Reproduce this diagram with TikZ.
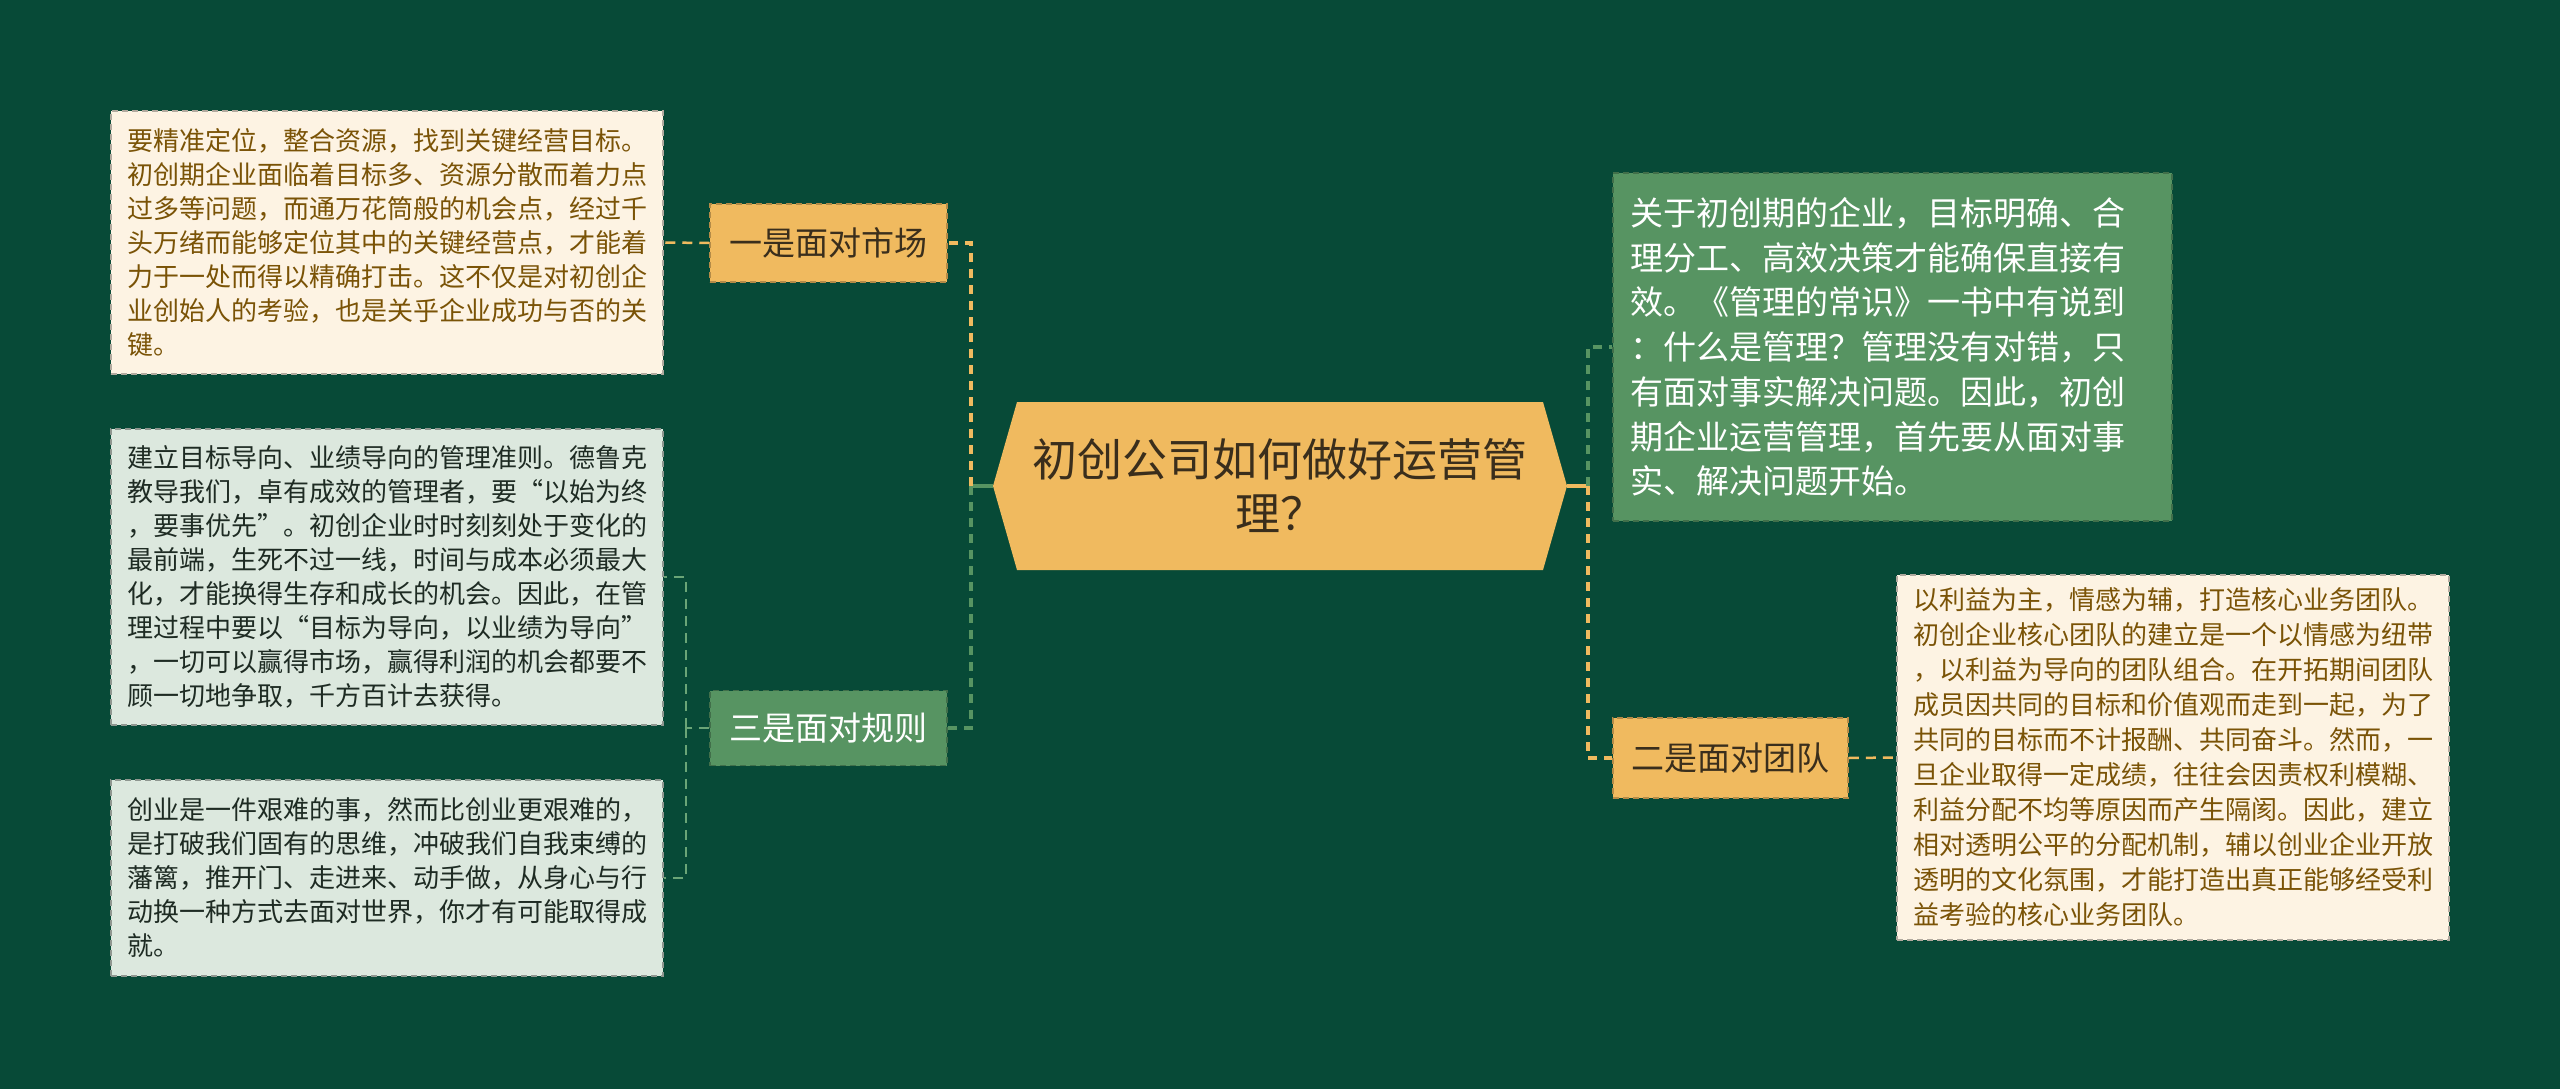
\documentclass[tikz,border=0pt]{standalone}
\usepackage{fontspec}
\newfontfamily\cjk{Noto Sans CJK SC}
\usetikzlibrary{calc}

\definecolor{bgc}{HTML}{074A37}
\definecolor{goldc}{HTML}{F0BA5F}
\definecolor{leafc}{HTML}{579462}
\definecolor{twigc}{HTML}{6AA577}
\definecolor{creamc}{HTML}{FDF3E3}
\definecolor{mintc}{HTML}{DCE8DE}
\definecolor{brownc}{HTML}{7A5306}
\definecolor{inkc}{HTML}{1E2B23}
\definecolor{darkc}{HTML}{3A2E1C}

\begin{document}
\begin{tikzpicture}[x=1pt, y=-1pt,
  note/.style={draw, line width=1.5pt, dash pattern=on 6pt off 4pt, inner xsep=16pt, inner ysep=0pt, align=left, font=\cjk\fontsize{26pt}{34pt}\selectfont},
  cream/.style={note, fill=creamc, draw=creamc!70!black, text=brownc},
  mint/.style={note, fill=mintc, draw=mintc!65!black, text=inkc},
  branch/.style={draw, line width=1.5pt, dash pattern=on 6pt off 4pt, inner sep=0pt, font=\cjk\fontsize{33pt}{40pt}\selectfont},
  goldbox/.style={branch, fill=goldc, draw=goldc!75!black, text=darkc},
  leafbox/.style={branch, fill=leafc, draw=leafc!75!black, text=white},
  link/.style={line width=3.5pt, dash pattern=on 9pt off 7pt},
  twig/.style={line width=2.5pt, dash pattern=on 10pt off 7pt},
  stem/.style={line width=4pt},
  topic/.style={minimum width=574pt, minimum height=168pt, inner sep=0pt, align=center, text=darkc,
    font=\cjk\fontsize{45pt}{54pt}\selectfont,
    path picture={\fill[goldc] (path picture bounding box.west)
      -- ([xshift=24pt]path picture bounding box.north west)
      -- ([xshift=-24pt]path picture bounding box.north east)
      -- (path picture bounding box.east)
      -- ([xshift=-24pt]path picture bounding box.south east)
      -- ([xshift=24pt]path picture bounding box.south west) -- cycle;}}
]
\fill[bgc] (0,0) rectangle (2560,1089);
\useasboundingbox (0,0) rectangle (2560,1089);

% centre
\node[topic] (root) at (1280,486) {初创公司如何做好运营管\\理？};

% left branches
\node[goldbox, minimum width=237pt, minimum height=78pt] (market) at (828.5,243) {一是面对市场};
\node[leafbox, minimum width=237pt, minimum height=75pt] (rules) at (828.5,728) {三是面对规则};

\node[cream, text width=520pt, minimum height=263pt] (marketnote) at (387,242.5) {要精准定位，整合资源，找到关键经营目标。\\初创期企业面临着目标多、资源分散而着力点\\过多等问题，而通万花筒般的机会点，经过千\\头万绪而能够定位其中的关键经营点，才能着\\力于一处而得以精确打击。这不仅是对初创企\\业创始人的考验，也是关乎企业成功与否的关\\键。};

\node[mint, text width=520pt, minimum height=296pt] (rulesnote) at (387,577) {建立目标导向、业绩导向的管理准则。德鲁克\\教导我们，卓有成效的管理者，要“以始为终\\，要事优先”。初创企业时时刻刻处于变化的\\最前端，生死不过一线，时间与成本必须最大\\化，才能换得生存和成长的机会。因此，在管\\理过程中要以“目标为导向，以业绩为导向”\\，一切可以赢得市场，赢得利润的机会都要不\\顾一切地争取，千方百计去获得。};

\node[mint, text width=520pt, minimum height=196pt] (mindnote) at (387,878) {创业是一件艰难的事，然而比创业更艰难的，\\是打破我们固有的思维，冲破我们自我束缚的\\藩篱，推开门、走进来、动手做，从身心与行\\动换一种方式去面对世界，你才有可能取得成\\就。};

% right branches
\node[note, fill=leafc, draw=leafc!75!black, text=white, inner xsep=17pt, text width=525pt, minimum height=348pt,
  font=\cjk\fontsize{33pt}{44.7pt}\selectfont] (factnote) at (1892.5,347) {关于初创期的企业，目标明确、合\\理分工、高效决策才能确保直接有\\效。《管理的常识》一书中有说到\\：什么是管理？管理没有对错，只\\有面对事实解决问题。因此，初创\\期企业运营管理，首先要从面对事\\实、解决问题开始。};

\node[goldbox, minimum width=235pt, minimum height=80pt] (team) at (1730.5,758) {二是面对团队};

\node[cream, text width=520pt, minimum height=365pt, font=\cjk\fontsize{26pt}{35pt}\selectfont] (teamnote) at (2173,757.5) {以利益为主，情感为辅，打造核心业务团队。\\初创企业核心团队的建立是一个以情感为纽带\\，以利益为导向的团队组合。在开拓期间团队\\成员因共同的目标和价值观而走到一起，为了\\共同的目标而不计报酬、共同奋斗。然而，一\\旦企业取得一定成绩，往往会因责权利模糊、\\利益分配不均等原因而产生隔阂。因此，建立\\相对透明公平的分配机制，辅以创业企业开放\\透明的文化氛围，才能打造出真正能够经受利\\益考验的核心业务团队。};

% hubs
\coordinate (lhub) at (971,486);
\coordinate (rhub) at (1588,486);
\coordinate (rulehub) at (686,728);

% connectors
\draw[stem, leafc] (root.west) -- (lhub);
\draw[link, goldc] (lhub) |- (market.east);
\draw[link, leafc] (lhub) |- (rules.east);
\draw[twig, goldc] (market.west) -- (marketnote.east);
\draw[twig, twigc] (rules.west) -- (rulehub);
\draw[twig, twigc] (rulehub) |- (rulesnote.east);
\draw[twig, twigc] (rulehub) |- (mindnote.east);
\draw[stem, goldc] (root.east) -- (rhub);
\draw[link, leafc] (rhub) |- (factnote.west);
\draw[link, goldc] (rhub) |- (team.west);
\draw[twig, goldc] (team.east) -- (teamnote.west);
\end{tikzpicture}
\end{document}
